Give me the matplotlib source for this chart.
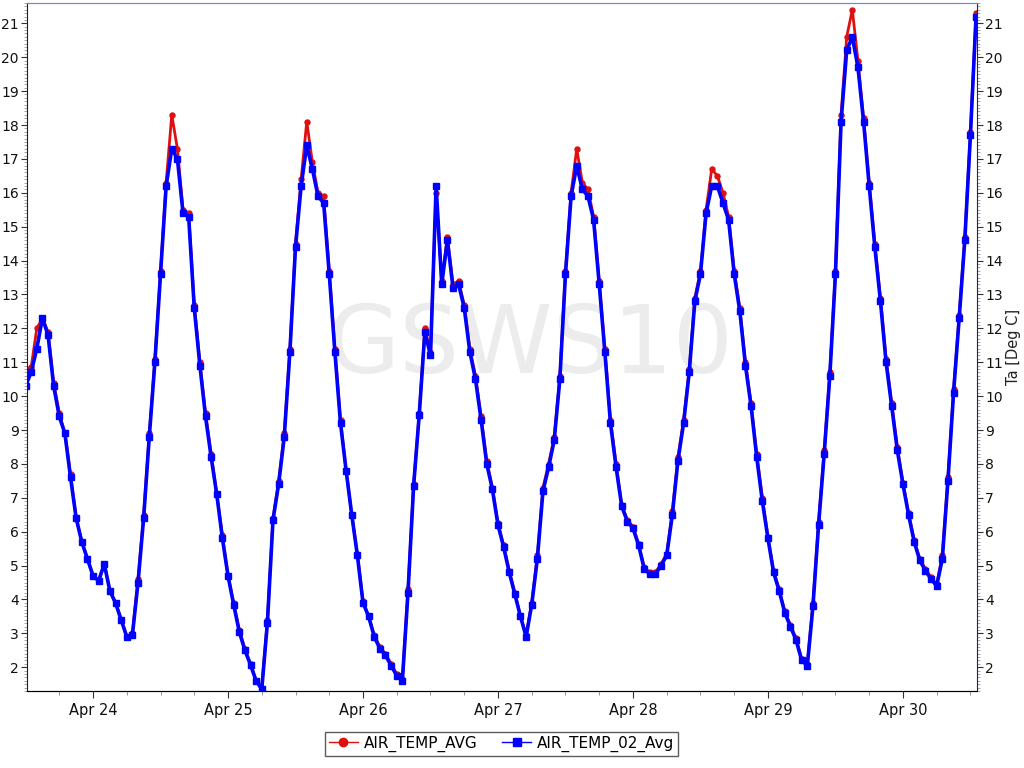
import pandas as pd
import matplotlib
matplotlib.use("Agg")
import matplotlib.pyplot as plt
import matplotlib.dates as mdates
from matplotlib.ticker import MultipleLocator

# hourly readings, Apr 23 12:00 -> Apr 30 13:00
start = "2013-04-23 12:00"

air_temp_02_avg = [
    10.3, 10.7, 11.4, 12.3, 11.8, 10.3, 9.4, 8.9, 7.6, 6.4, 5.7, 5.2,
    4.7, 4.55, 5.05, 4.25, 3.9, 3.4, 2.9, 2.95, 4.5, 6.4, 8.8, 11.0,
    13.6, 16.2, 17.3, 17.0, 15.4, 15.3, 12.6, 10.9, 9.4, 8.2, 7.1, 5.8,
    4.7, 3.85, 3.05, 2.5, 2.07, 1.6, 1.35, 3.3, 6.35, 7.4, 8.8, 11.3,
    14.4, 16.2, 17.4, 16.7, 15.9, 15.7, 13.6, 11.3, 9.2, 7.8, 6.5, 5.3,
    3.9, 3.5, 2.9, 2.55, 2.35, 2.05, 1.75, 1.6, 4.2, 7.35, 9.45, 11.9,
    11.2, 16.2, 13.3, 14.6, 13.2, 13.3, 12.6, 11.3, 10.5, 9.3, 8.0, 7.25,
    6.2, 5.55, 4.8, 4.15, 3.5, 2.9, 3.85, 5.2, 7.2, 7.9, 8.7, 10.5,
    13.6, 15.9, 16.8, 16.1, 15.9, 15.2, 13.3, 11.3, 9.2, 7.9, 6.75, 6.3,
    6.1, 5.6, 4.9, 4.75, 4.75, 5.0, 5.3, 6.5, 8.1, 9.2, 10.7, 12.8,
    13.6, 15.4, 16.2, 16.2, 15.7, 15.2, 13.6, 12.5, 10.9, 9.7, 8.2, 6.9,
    5.8, 4.8, 4.25, 3.6, 3.2, 2.8, 2.2, 2.05, 3.8, 6.2, 8.3, 10.6,
    13.6, 18.1, 20.2, 20.6, 19.7, 18.1, 16.2, 14.4, 12.8, 11.0, 9.7, 8.4,
    7.4, 6.5, 5.7, 5.15, 4.85, 4.6, 4.4, 5.2, 7.5, 10.1, 12.3, 14.6,
    17.7, 21.2,
]

air_temp_avg = [
    10.8, 10.85, 12.0, 12.3, 11.9, 10.4, 9.5, 8.9, 7.7, 6.4, 5.7, 5.2,
    4.7, 4.55, 5.05, 4.25, 3.9, 3.4, 2.9, 3.0, 4.6, 6.5, 8.9, 11.1,
    13.7, 16.3, 18.3, 17.3, 15.5, 15.4, 12.7, 11.0, 9.5, 8.3, 7.1, 5.9,
    4.7, 3.9, 3.1, 2.55, 2.1, 1.6, 1.4, 3.4, 6.4, 7.5, 8.9, 11.4,
    14.5, 16.4, 18.1, 16.9, 16.0, 15.9, 13.7, 11.4, 9.3, 7.8, 6.5, 5.35,
    3.95, 3.5, 2.95, 2.6, 2.4, 2.1, 1.8, 1.65, 4.3, 7.4, 9.5, 12.0,
    11.3, 16.0, 13.4, 14.7, 13.3, 13.4, 12.7, 11.4, 10.6, 9.4, 8.1, 7.3,
    6.25, 5.6, 4.85, 4.2, 3.5, 2.95, 3.9, 5.3, 7.3, 8.0, 8.8, 10.6,
    13.7, 16.0, 17.3, 16.3, 16.1, 15.3, 13.4, 11.4, 9.3, 8.0, 6.8, 6.35,
    6.15, 5.65, 4.95, 4.8, 4.8, 5.05, 5.35, 6.6, 8.2, 9.3, 10.8, 12.9,
    13.7, 15.5, 16.7, 16.5, 16.0, 15.3, 13.7, 12.6, 11.0, 9.8, 8.3, 7.0,
    5.85, 4.85, 4.3, 3.65, 3.25, 2.85, 2.25, 2.1, 3.9, 6.3, 8.4, 10.7,
    13.7, 18.3, 20.6, 21.4, 19.9, 18.2, 16.3, 14.5, 12.9, 11.1, 9.8, 8.5,
    7.45, 6.55, 5.75, 5.2, 4.9, 4.65, 4.45, 5.3, 7.6, 10.2, 12.4, 14.7,
    17.8, 21.3,
]

times = pd.date_range(start, periods=len(air_temp_avg), freq="h")

fig = plt.figure(figsize=(10.24, 7.68), dpi=100)
ax = fig.add_axes([0.0264, 0.1003, 0.9277, 0.8958])

ax.text(0.53, 0.5, "GSWS10", transform=ax.transAxes, fontsize=68,
        color="#ececec", ha="center", va="center", zorder=0)

ax.plot(times, air_temp_avg, color="#e01010", marker="o", markersize=3.6,
        linewidth=2.0, label="AIR_TEMP_AVG", zorder=2)
ax.plot(times, air_temp_02_avg, color="#0000ff", marker="s", markersize=4.0,
        linewidth=2.6, label="AIR_TEMP_02_Avg", zorder=3)

ax.set_xlim(pd.Timestamp("2013-04-23 12:16"), pd.Timestamp("2013-04-30 13:10"))
ax.set_ylim(1.3, 21.6)

ax.xaxis.set_major_locator(mdates.DayLocator())
ax.xaxis.set_major_formatter(mdates.DateFormatter("%b %d"))
ax.xaxis.set_minor_locator(mdates.HourLocator(byhour=[6, 12, 18]))
ax.yaxis.set_major_locator(MultipleLocator(1))
ax.yaxis.set_minor_locator(MultipleLocator(0.1))

ax2 = ax.twinx()
ax2.set_ylim(ax.get_ylim())
ax2.yaxis.set_major_locator(MultipleLocator(1))
ax2.yaxis.set_minor_locator(MultipleLocator(0.1))
ax2.set_ylabel("Ta [Deg C]", fontsize=10.5, color="#222222", labelpad=2)

for a in (ax, ax2):
    a.tick_params(axis="y", which="major", labelsize=10, length=4, pad=2,
                  colors="#333333", labelcolor="#111111")
    a.tick_params(axis="x", which="major", labelsize=10.5, length=5,
                  colors="#333333", labelcolor="#111111")
    a.tick_params(axis="y", which="minor", length=2, color="#999999")
    a.tick_params(axis="x", which="minor", length=3, color="#888888")
    a.spines["top"].set_color("#8080d0")

ax.spines["right"].set_visible(False)
ax2.spines["left"].set_visible(False)
ax2.spines["right"].set_color("#202060")
ax.spines["bottom"].set_color("#202020")
ax.spines["left"].set_color("#202020")

leg = fig.legend(loc="lower center", ncol=2, bbox_to_anchor=(0.49, 0.01),
                 fontsize=11, frameon=True, fancybox=False, edgecolor="#333333",
                 handlelength=1.9, handletextpad=0.4, columnspacing=1.6,
                 borderpad=0.25, borderaxespad=0.3)
for h in leg.legend_handles:
    h.set_linewidth(1.0)
    h.set_markersize(6)
leg.get_frame().set_linewidth(1.0)

fig.savefig("out.png", dpi=100)
